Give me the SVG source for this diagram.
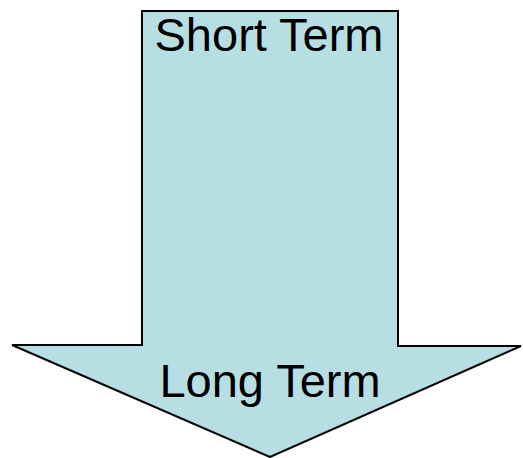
<svg xmlns="http://www.w3.org/2000/svg" width="523" height="458" viewBox="0 0 523 458">
<style>
.lbl{font-family:"Liberation Sans",Arial,sans-serif;font-size:47px;fill:#000;text-anchor:middle}
</style>
<rect width="523" height="458" fill="#fff"/>
<g id="arrow">
<polygon points="142,11 398,11 398,346 521,346 270,457 12,345 142,345" fill="#B7DEE3" stroke="#000" stroke-width="2" stroke-linejoin="miter"/>
</g>
<g id="labels">
<text class="lbl" x="269" y="51">Short Term</text>
<text class="lbl" x="270" y="397">Long Term</text>
</g>
<g id="connectors"/>
</svg>
